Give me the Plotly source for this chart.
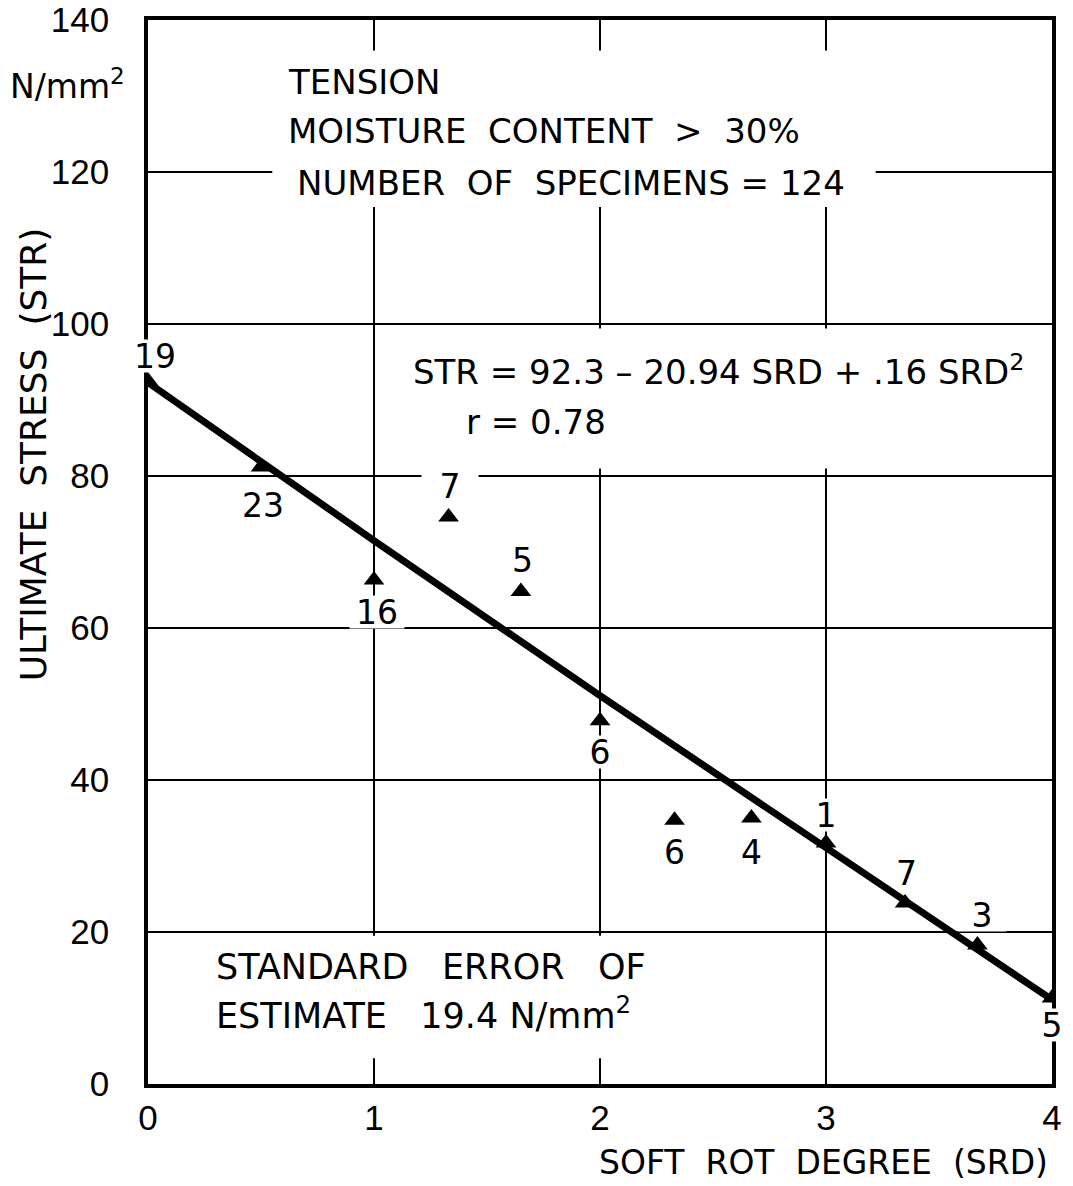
import plotly.graph_objects as go

# ---- data ----
srd = [0.0, 0.5, 1.0, 1.33, 1.65, 2.0, 2.33, 2.67, 3.0, 3.35, 3.67, 4.0]
stress = [92.5, 81.2, 66.3, 74.6, 64.8, 47.8, 34.7, 35.0, 31.7, 23.8, 18.3, 11.3]
specimens = [19, 23, 16, 7, 5, 6, 6, 4, 1, 7, 3, 5]

fit_srd = [0, 1, 2, 3, 4]
fit_stress = [92.3, 71.5, 51.1, 31.2, 11.1]

x_ticks = [0, 1, 2, 3, 4]
y_ticks = [0, 20, 40, 60, 80, 100, 120, 140]

# ---- label placement (style) ----
label_dx = [7, 2, 3, 1, 2, 0, 0, 0, 0, 1, 5, 0]
label_dy = [25, -39, -32, 31, 31, -31, -32, -34, 28, 30, 30, -27]
label_mask_w = [44, 0, 54, 56, 0, 40, 0, 0, 26, 0, 48, 40]

TXT = "DejaVu Sans"
NUM = "Liberation Sans"
BLACK = "#000000"

fig = go.Figure()

fig.add_trace(go.Scatter(
    x=fit_srd, y=fit_stress, mode="lines",
    line=dict(color=BLACK, width=7), hoverinfo="skip", showlegend=False))

fig.add_trace(go.Scatter(
    x=srd, y=stress, mode="markers",
    marker=dict(symbol="triangle-up", size=18, color=BLACK, line=dict(width=0)),
    showlegend=False))

# point labels (number of specimens)
for xv, yv, n, dx, dy, w in zip(srd, stress, specimens, label_dx, label_dy, label_mask_w):
    kw = dict(bgcolor="white", width=w, height=32, borderpad=0) if w else {}
    fig.add_annotation(x=xv, y=yv, xref="x", yref="y", text=str(n), showarrow=False,
                       xshift=dx, yshift=dy, font=dict(family=TXT, size=33, color=BLACK), **kw)

# white masks behind text blocks (hide gridlines)
for x0, x1, y0, y1 in [(0.55, 3.22, 115.4, 136.0), (1.12, 3.93, 81.0, 99.4), (0.02, 2.52, 3.4, 19.5)]:
    fig.add_shape(type="rect", xref="x", yref="y", x0=x0, x1=x1, y0=y0, y1=y1,
                  fillcolor="white", line=dict(width=0), layer="between")

# text blocks
top_lines = ["TENSION", "MOISTURE  CONTENT  >  30%", "NUMBER  OF  SPECIMENS = 124"]
for txt, xv, yv in zip(top_lines, [0.61, 0.61, 0.65], [131.8, 125.4, 118.6]):
    fig.add_annotation(x=xv, y=yv, xref="x", yref="y", text=txt, showarrow=False,
                       xanchor="left", yanchor="middle", font=dict(family=TXT, size=34, color=BLACK))

fig.add_annotation(x=1.165, y=93.9, xref="x", yref="y",
                   text="STR = 92.3 \u2013 20.94 SRD + .16 SRD<sup>2</sup>", showarrow=False,
                   xanchor="left", yanchor="middle", font=dict(family=TXT, size=34, color=BLACK))
fig.add_annotation(x=1.40, y=87.1, xref="x", yref="y", text="r = 0.78", showarrow=False,
                   xanchor="left", yanchor="middle", font=dict(family=TXT, size=34, color=BLACK))

fig.add_annotation(x=0.29, y=15.4, xref="x", yref="y", text="STANDARD   ERROR   OF", showarrow=False,
                   xanchor="left", yanchor="middle", font=dict(family=TXT, size=35, color=BLACK))
fig.add_annotation(x=0.29, y=9.3, xref="x", yref="y", text="ESTIMATE   19.4 N/mm<sup>2</sup>", showarrow=False,
                   xanchor="left", yanchor="middle", font=dict(family=TXT, size=35, color=BLACK))

# axis titles / units
fig.add_annotation(x=-0.127, y=0.592, xref="paper", yref="paper", text="ULTIMATE  STRESS  (STR)",
                   textangle=-90, showarrow=False, xanchor="center", yanchor="middle",
                   font=dict(family=TXT, size=36, color=BLACK))
fig.add_annotation(x=-0.0896, y=0.939, xref="paper", yref="paper", text="N/mm<sup>2</sup>",
                   showarrow=False, xanchor="center", yanchor="middle",
                   font=dict(family=TXT, size=33, color=BLACK))
fig.add_annotation(x=0.998, y=-0.0742, xref="paper", yref="paper", text="SOFT  ROT  DEGREE  (SRD)",
                   showarrow=False, xanchor="right", yanchor="middle",
                   font=dict(family=TXT, size=33, color=BLACK))

axis_common = dict(showgrid=True, gridcolor=BLACK, gridwidth=1.5, zeroline=False,
                   showline=True, linecolor=BLACK, linewidth=3.5, mirror=True, ticks="",
                   automargin=False, tickfont=dict(family=NUM, size=35, color=BLACK))

fig.update_xaxes(range=[0, 4], tickvals=x_ticks, ticktext=[str(v) for v in x_ticks],
                 ticklabelstandoff=0, **axis_common)
fig.update_yaxes(range=[0, 140], tickvals=y_ticks, ticktext=[str(v) for v in y_ticks],
                 ticklabelstandoff=28, **axis_common)

fig.update_layout(width=1073, height=1186, margin=dict(l=148, r=21, t=20, b=102),
                  plot_bgcolor="white", paper_bgcolor="white", showlegend=False)

fig.write_html("out.html")
